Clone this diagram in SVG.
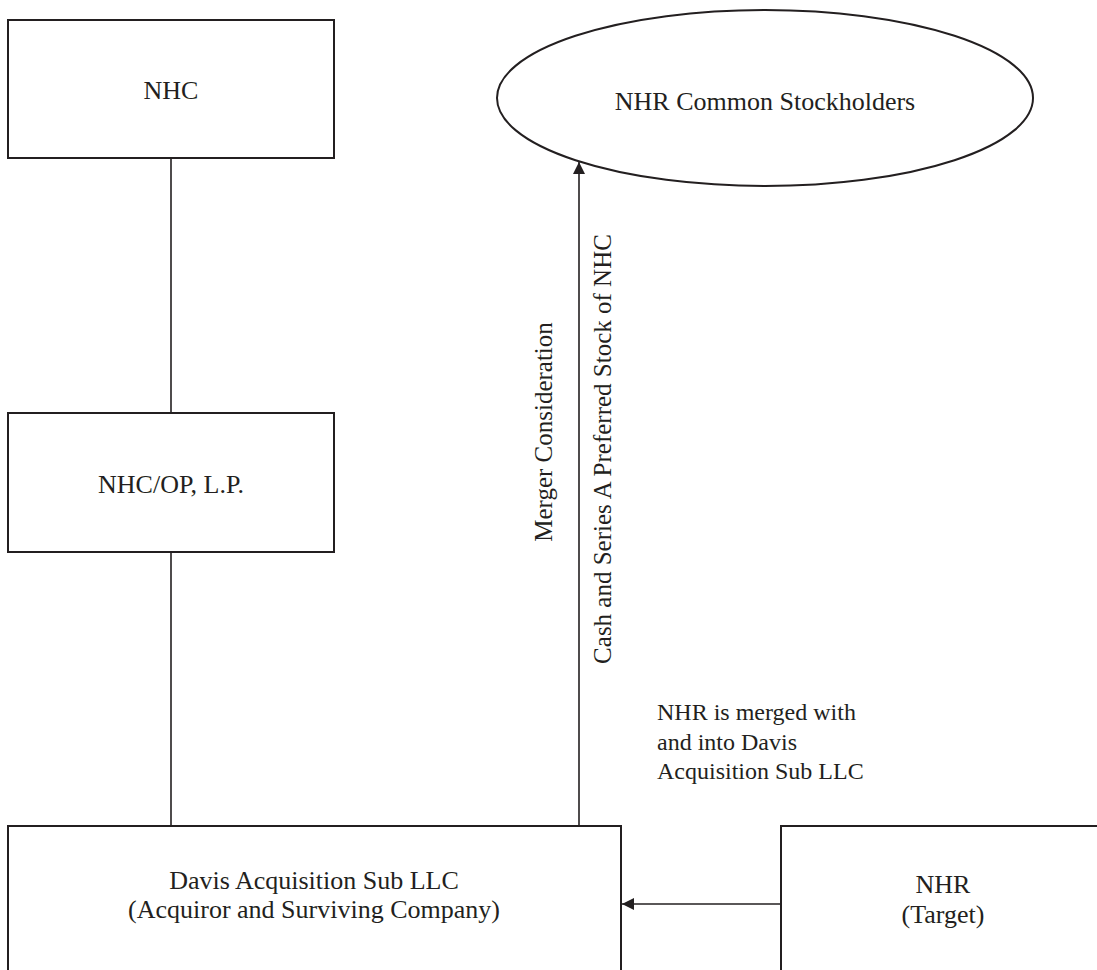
<svg xmlns="http://www.w3.org/2000/svg" width="1097" height="970" viewBox="0 0 1097 970">
<style>
.box{fill:#fff;stroke:#231f20;stroke-width:2}
.lbl{font-family:"Liberation Serif","Times New Roman",serif;font-size:26px;fill:#231f20;text-anchor:middle}
.note{font-family:"Liberation Serif","Times New Roman",serif;font-size:24px;fill:#231f20}
.rot{font-family:"Liberation Serif","Times New Roman",serif;font-size:25px;fill:#231f20;text-anchor:middle}
.con{fill:none;stroke:#231f20;stroke-width:1.6}
</style>
<defs>
<marker id="ah" viewBox="0 0 12 12" refX="12" refY="6" markerWidth="12" markerHeight="12" markerUnits="userSpaceOnUse" orient="auto">
<path d="M0,0 L12,6 L0,12 Z" fill="#231f20"/>
</marker>
</defs>
<rect width="1097" height="970" fill="#fff"/>
<g id="connectors">
<line class="con" x1="171" y1="158" x2="171" y2="413"/>
<line class="con" x1="171" y1="552" x2="171" y2="826"/>
<line class="con" x1="579" y1="826" x2="579" y2="162" marker-end="url(#ah)"/>
<line class="con" x1="781" y1="904" x2="622" y2="904" marker-end="url(#ah)"/>
</g>
<g id="nhc">
<rect class="box" x="8" y="20" width="326" height="138"/>
<text class="lbl" x="171" y="99">NHC</text>
</g>
<g id="nhr-common">
<ellipse class="box" cx="765" cy="98" rx="268" ry="88"/>
<text class="lbl" x="765" y="110">NHR Common Stockholders</text>
</g>
<g id="nhc-op">
<rect class="box" x="8" y="413" width="326" height="139"/>
<text class="lbl" x="171" y="493">NHC/OP, L.P.</text>
</g>
<g id="davis">
<rect class="box" x="8" y="826" width="613" height="160"/>
<text class="lbl" x="314" y="889">Davis Acquisition Sub LLC</text>
<text class="lbl" x="314" y="918">(Acquiror and Surviving Company)</text>
</g>
<g id="nhr">
<rect class="box" x="781" y="826" width="330" height="160"/>
<text class="lbl" x="943" y="893">NHR</text>
<text class="lbl" x="943" y="923">(Target)</text>
</g>
<g id="labels">
<text class="rot" transform="translate(552,432) rotate(-90)">Merger Consideration</text>
<text class="rot" transform="translate(611,449) rotate(-90)">Cash and Series A Preferred Stock of NHC</text>
<text class="note" x="657" y="720">NHR is merged with</text>
<text class="note" x="657" y="750">and into Davis</text>
<text class="note" x="657" y="779">Acquisition Sub LLC</text>
</g>
</svg>
